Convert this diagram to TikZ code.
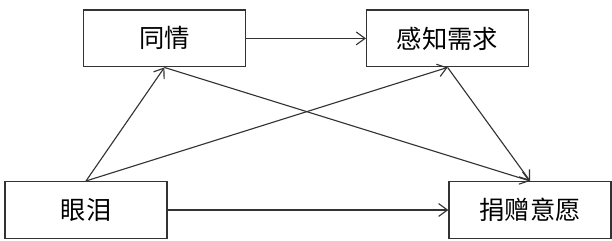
\documentclass[tikz,border=0pt]{standalone}
\usepackage{fontspec}
\usepackage{tikz}
\usetikzlibrary{arrows.meta,positioning}
\newfontfamily\cjk{Noto Sans CJK SC}

\begin{document}
\begin{tikzpicture}[
    box/.style={rectangle, draw=black!80, line width=0.9pt, fill=white, minimum width=4.05cm, minimum height=1.42cm, inner sep=0pt, text centered, font=\cjk\fontsize{18}{20}\selectfont},
    arrow/.style={-{Straight Barb[length=2.2mm, width=3.2mm]}, line width=0.8pt, black!80}
]
    \useasboundingbox (0,0) rectangle (15.3,-6);
    \node[box] (sympathy) at (4.11,-0.96) {同情};
    \node[box] (need) at (11.19,-0.96) {感知需求};
    \node[box] (tears) at (2.15,-5.25) {眼泪};
    \node[box] (donate) at (13.25,-5.25) {捐赠意愿};

    \draw[arrow] (sympathy) -- (need);
    \draw[arrow] (tears) -- (donate);
    \draw[arrow] (tears.north) -- (sympathy.south);
    \draw[arrow] (tears.north) -- (need.south);
    \draw[arrow] (sympathy.south) -- (donate.north);
    \draw[arrow] (need.south) -- (donate.north);
\end{tikzpicture}
\end{document}
